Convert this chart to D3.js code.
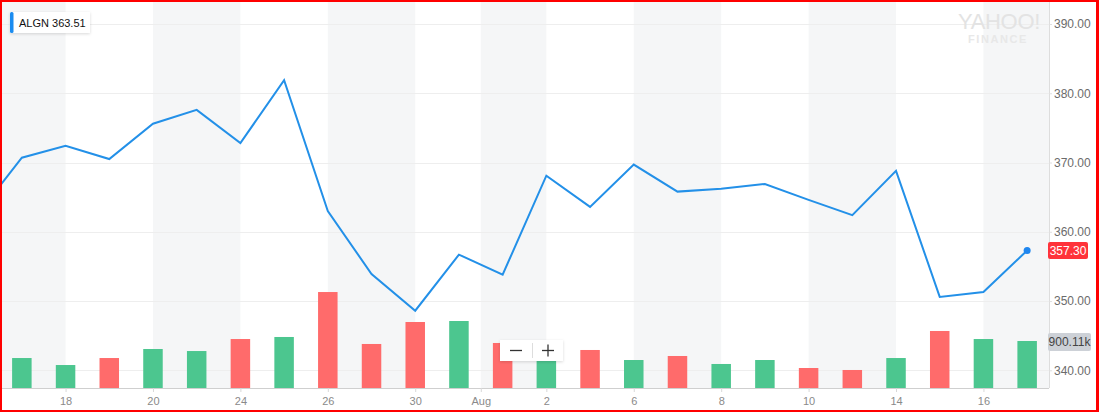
<!DOCTYPE html>
<html><head><meta charset="utf-8">
<script src="https://cdn.jsdelivr.net/npm/d3@7"></script>
<style>
html,body{margin:0;padding:0;background:#fff;}
svg{display:block;font-family:"Liberation Sans",Arial,Helvetica,sans-serif;}
</style></head>
<body>
<svg id="c" width="1099" height="412"></svg>
<script>
// ---- data ----
const dates = ["2018-07-17","2018-07-18","2018-07-19","2018-07-20","2018-07-23","2018-07-24","2018-07-25","2018-07-26","2018-07-27","2018-07-30","2018-07-31","2018-08-01","2018-08-02","2018-08-03","2018-08-06","2018-08-07","2018-08-08","2018-08-09","2018-08-10","2018-08-13","2018-08-14","2018-08-15","2018-08-16","2018-08-17"];
const prevClose = 362.6; // 2018-07-16, left of the visible window
const closes = [370.7,372.4,370.5,375.6,377.6,372.8,381.9,363.0,353.9,348.6,356.7,353.8,368.1,363.6,369.7,365.8,366.2,366.9,364.6,362.4,368.8,350.6,351.3,357.3];
const volumesK = [574,440,574,747,708,938,977,1838,843,1264,1283,862,536,728,536,613,460,536,383,345,574,1092,938,900.11];
const tickIndex = [1,3,5,7,9,10.5,12,14,16,18,20,22];
const tickLabels = ["18","20","24","26","30","Aug","2","6","8","10","14","16"];
const priceTicks = [340,350,360,370,380,390];
const symbol = "ALGN";
const legendValue = "363.51";
const lastVolumeLabel = "900.11k";

// ---- layout ----
const W = 1099, H = 412;
const plotL = 0, plotR = 1049, plotB = 388, plotT = 0;
const svg = d3.select("#c");

const x = d3.scaleLinear().domain([-0.5, dates.length - 0.5]).range([plotL, plotR]);
const y = d3.scaleLinear().domain([340, 390]).range([370.3, 24]);
const yv = d3.scaleLinear().domain([0, 900.11]).range([plotB, 341]);

// alternating bands between tick positions
const bounds = [x.domain()[0], ...tickIndex, x.domain()[1]];
const bands = [];
for (let i = 0; i < bounds.length - 1; i += 2) bands.push([bounds[i], bounds[i+1]]);
svg.append("g").selectAll("rect").data(bands).join("rect")
  .attr("x", d => x(d[0])).attr("width", d => x(d[1]) - x(d[0]))
  .attr("y", plotT).attr("height", plotB - plotT)
  .attr("fill", "#f5f6f7");

// horizontal grid
svg.append("g").selectAll("line").data(priceTicks).join("line")
  .attr("x1", plotL).attr("x2", plotR)
  .attr("y1", d => Math.round(y(d)) + 0.5).attr("y2", d => Math.round(y(d)) + 0.5)
  .attr("stroke", "#eeeeee").attr("stroke-width", 1);

// watermark
svg.append("text").attr("x", 999).attr("y", 29).attr("text-anchor", "middle")
  .attr("font-size", 22).attr("fill", "#e3e3e3").attr("letter-spacing", -0.3)
  .text("YAHOO!");
svg.append("text").attr("x", 998).attr("y", 43).attr("text-anchor", "middle")
  .attr("font-size", 11).attr("font-weight", "bold").attr("fill", "#e8e8e8").attr("letter-spacing", 1.6)
  .text("FINANCE");

// volume bars
const bw = 19.5;
svg.append("g").selectAll("rect").data(volumesK).join("rect")
  .attr("x", (d, i) => x(i) - bw / 2).attr("width", bw)
  .attr("y", d => yv(d)).attr("height", d => plotB - yv(d))
  .attr("fill", (d, i) => closes[i] >= (i ? closes[i-1] : prevClose) ? "#4cc68f" : "#ff6b6b");

// price line
svg.append("clipPath").attr("id", "clip").append("rect")
  .attr("x", plotL + 2).attr("y", plotT).attr("width", plotR - plotL - 2).attr("height", plotB);
const pts = [[-1, prevClose], ...closes.map((c, i) => [i, c])];
svg.append("path").datum(pts)
  .attr("clip-path", "url(#clip)")
  .attr("fill", "none").attr("stroke", "#2390e8").attr("stroke-width", 2)
  .attr("stroke-linejoin", "miter")
  .attr("d", d3.line().x(d => x(d[0])).y(d => y(d[1])));
svg.append("circle").attr("cx", x(closes.length - 1)).attr("cy", y(closes[closes.length - 1]))
  .attr("r", 3.5).attr("fill", "#1f86ef");

// bottom axis
const xAxis = d3.axisBottom(x).tickValues(tickIndex).tickFormat((d, i) => tickLabels[i])
  .tickSize(4).tickPadding(5);
const gx = svg.append("g").attr("transform", `translate(0,${plotB})`).call(xAxis);
gx.select(".domain").attr("stroke", "#cfcfcf").attr("d", `M${plotL},0.5H${plotR}`);
gx.selectAll(".tick line").attr("stroke", "#d8d8d8");
gx.selectAll(".tick text").attr("fill", "#8a8a8a").attr("font-size", 11)
  .attr("font-family", "'Liberation Sans',Arial,sans-serif");

// right axis
const yAxis = d3.axisRight(y).tickValues(priceTicks).tickFormat(d3.format(".2f"))
  .tickSize(3).tickPadding(2);
const gy = svg.append("g").attr("transform", `translate(${plotR},0)`).call(yAxis);
gy.select(".domain").attr("stroke", "#dddddd").attr("d", `M0.5,0V${plotB}`);
gy.selectAll(".tick line").attr("stroke", "#e0e0e0");
gy.selectAll(".tick text").attr("fill", "#6b6b6b").attr("font-size", 12)
  .attr("font-family", "'Liberation Sans',Arial,sans-serif");

// last price label
const lastY = y(closes[closes.length - 1]);
svg.append("rect").attr("x", plotR - 1).attr("y", lastY - 8.5).attr("width", 40).attr("height", 17)
  .attr("rx", 2).attr("fill", "#ff333a");
svg.append("text").attr("x", plotR + 19).attr("y", lastY + 4.5).attr("text-anchor", "middle")
  .attr("font-size", 12).attr("fill", "#fff").text(closes[closes.length - 1].toFixed(2));

// last volume label
const lastVY = yv(volumesK[volumesK.length - 1]);
svg.append("rect").attr("x", plotR - 1).attr("y", lastVY - 8).attr("width", 43).attr("height", 18)
  .attr("rx", 2).attr("fill", "#cdd1d7");
svg.append("text").attr("x", plotR + 20.5).attr("y", lastVY + 5.3).attr("text-anchor", "middle")
  .attr("font-size", 12).attr("fill", "#444").text(lastVolumeLabel);

// legend
const defs = svg.append("defs");
const f = defs.append("filter").attr("id", "sh").attr("x", "-20%").attr("y", "-40%").attr("width", "140%").attr("height", "180%");
f.append("feDropShadow").attr("dx", 0).attr("dy", 1).attr("stdDeviation", 1.5).attr("flood-color", "#000").attr("flood-opacity", 0.15);
svg.append("rect").attr("x", 10).attr("y", 12).attr("width", 80).attr("height", 21)
  .attr("fill", "#fff").attr("filter", "url(#sh)");
svg.append("rect").attr("x", 10).attr("y", 12).attr("width", 3.5).attr("height", 21)
  .attr("rx", 1.5).attr("fill", "#1b8cf0");
svg.append("text").attr("x", 19).attr("y", 27).attr("font-size", 11).attr("fill", "#111")
  .text(`${symbol} ${legendValue}`);

// zoom control
const zc = svg.append("g").attr("transform", "translate(500,340)");
zc.append("rect").attr("width", 63).attr("height", 21).attr("fill", "#fff").attr("filter", "url(#sh)");
zc.append("line").attr("x1", 10).attr("x2", 22).attr("y1", 10.5).attr("y2", 10.5).attr("stroke", "#333").attr("stroke-width", 1.3);
zc.append("line").attr("x1", 32.5).attr("x2", 32.5).attr("y1", 3).attr("y2", 18).attr("stroke", "#ddd");
zc.append("line").attr("x1", 42).attr("x2", 54).attr("y1", 10.5).attr("y2", 10.5).attr("stroke", "#333").attr("stroke-width", 1.3);
zc.append("line").attr("x1", 48).attr("x2", 48).attr("y1", 4.5).attr("y2", 16.5).attr("stroke", "#333").attr("stroke-width", 1.3);

// red frame
svg.append("rect").attr("x", 0).attr("y", 0).attr("width", W).attr("height", 2).attr("fill", "#f00");
svg.append("rect").attr("x", 0).attr("y", 0).attr("width", 2).attr("height", H).attr("fill", "#f00");
svg.append("rect").attr("x", W - 3).attr("y", 0).attr("width", 3).attr("height", H).attr("fill", "#f00");
svg.append("rect").attr("x", 0).attr("y", H - 2).attr("width", W).attr("height", 2).attr("fill", "#f00");
</script>
</body></html>
